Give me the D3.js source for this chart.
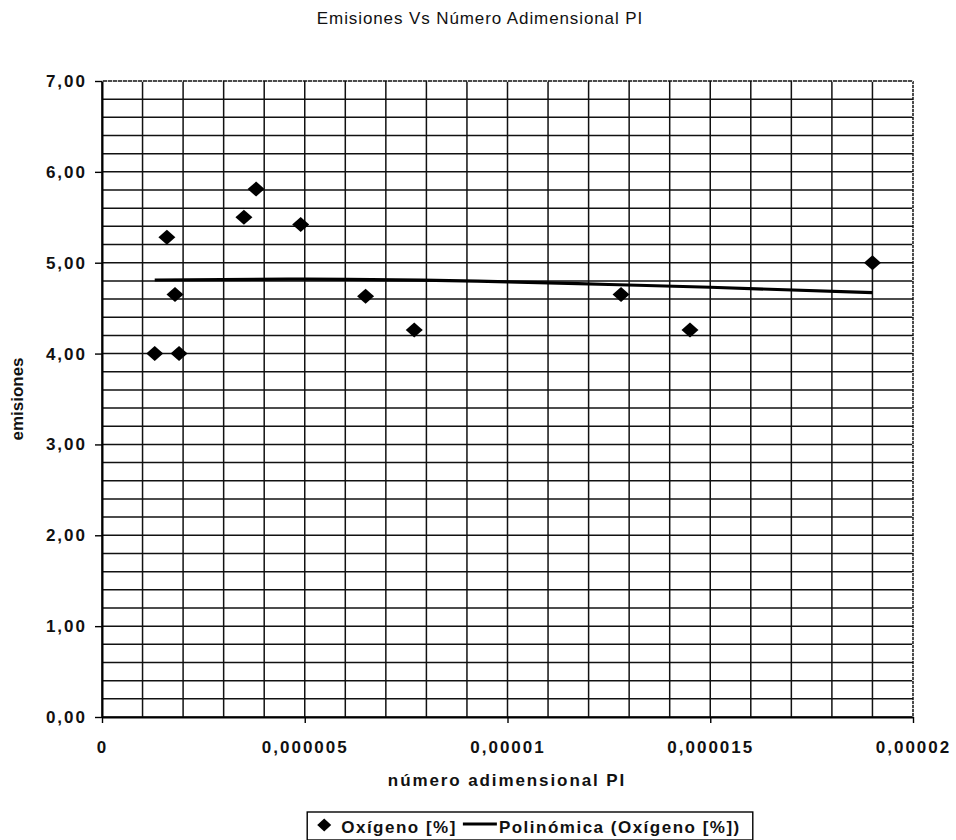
<!DOCTYPE html>
<html>
<head>
<meta charset="utf-8">
<script src="https://cdn.jsdelivr.net/npm/d3@7"></script>
<style>
	body { margin: 0; background: #fff; }
	text { font-family: 'Liberation Sans', Arial, sans-serif; fill: #111; }
</style>
</head>
<body>
<div id="chart"></div>
<script>

// Oxígeno [%] measurements
const pointX = [0.0000013, 0.0000016, 0.0000018, 0.0000019, 0.0000035, 0.0000038, 0.0000049, 0.0000065, 0.0000077, 0.0000128, 0.0000145, 0.0000190];
const pointY = [4.00, 5.28, 4.65, 4.00, 5.50, 5.81, 5.42, 4.63, 4.26, 4.65, 4.26, 5.00];

// Polinómica (Oxígeno [%])
const trendX = [0.0000013, 0.000005, 0.00001, 0.0000125, 0.000015, 0.000019];
const trendY = [4.81, 4.82, 4.79, 4.76, 4.73, 4.67];

const yTickValues = [0, 1, 2, 3, 4, 5, 6, 7];
const yTickLabels = ['0,00', '1,00', '2,00', '3,00', '4,00', '5,00', '6,00', '7,00'];
const xTickValues = [0, 0.000005, 0.00001, 0.000015, 0.00002];
const xTickLabels = ['0', '0,000005', '0,00001', '0,000015', '0,00002'];

const title = 'Emisiones Vs Número Adimensional PI';
const xTitle = 'número adimensional PI';
const yTitle = 'emisiones';
const legendLabels = ['Oxígeno [%]', 'Polinómica (Oxígeno [%])'];


function ScatterChart(element) {
	this.element = element;
	this.width = 956;
	this.height = 840;
	this.draw();
}

ScatterChart.prototype.draw = function() {
	this.createSVG();
	this.createScales();
	this.createGrid();
	this.createAxes();
	this.createTrend();
	this.createPoints();
	this.createLabels();
	this.createLegend();
}

ScatterChart.prototype.createSVG = function() {
	this.svg = d3.select(this.element)
		.append('svg')
			.attr('width', this.width)
			.attr('height', this.height);
}

ScatterChart.prototype.createScales = function() {
	this.xScale = d3.scaleLinear()
		.domain([0, 0.00002])
		.range([102, 913]);

	this.yScale = d3.scaleLinear()
		.domain([0, 7])
		.range([717, 81]);
}

ScatterChart.prototype.createGrid = function() {
	let that = this;
	let grid = this.svg.append('g').attr('class', 'grid');

	grid.selectAll('.h')
		.data(this.yScale.ticks(35))
		.enter().append('line')
			.attr('class', 'h')
			.attr('x1', this.xScale.range()[0])
			.attr('x2', this.xScale.range()[1])
			.attr('y1', function(d) { return that.yScale(d); })
			.attr('y2', function(d) { return that.yScale(d); })
			.attr('stroke', '#111')
			.attr('stroke-width', 1.5);

	grid.selectAll('.v')
		.data(this.xScale.ticks(20))
		.enter().append('line')
			.attr('class', 'v')
			.attr('y1', this.yScale.range()[0])
			.attr('y2', this.yScale.range()[1])
			.attr('x1', function(d) { return that.xScale(d); })
			.attr('x2', function(d) { return that.xScale(d); })
			.attr('stroke', '#111')
			.attr('stroke-width', 1.5);

	// top and right border look dotted in the scan
	grid.append('line')
		.attr('x1', this.xScale(0)).attr('x2', this.xScale(0.00002))
		.attr('y1', this.yScale(7)).attr('y2', this.yScale(7))
		.attr('stroke', '#fff').attr('stroke-width', 1.7)
		.attr('stroke-dasharray', '1,4');
	grid.append('line')
		.attr('x1', this.xScale(0.00002)).attr('x2', this.xScale(0.00002))
		.attr('y1', this.yScale(0)).attr('y2', this.yScale(7))
		.attr('stroke', '#fff').attr('stroke-width', 1.7)
		.attr('stroke-dasharray', '1,3');
}

ScatterChart.prototype.createAxes = function() {
	this.xAxis = d3.axisBottom(this.xScale)
		.tickValues(xTickValues)
		.tickFormat(function(d, i) { return xTickLabels[i]; })
		.tickSizeInner(6)
		.tickSizeOuter(0)
		.tickPadding(18);

	this.yAxis = d3.axisLeft(this.yScale)
		.tickValues(yTickValues)
		.tickFormat(function(d, i) { return yTickLabels[i]; })
		.tickSizeInner(7)
		.tickSizeOuter(0)
		.tickPadding(8);

	let gx = this.svg.append('g')
		.attr('transform', `translate(0, ${this.yScale(0)})`)
		.call(this.xAxis);

	let gy = this.svg.append('g')
		.attr('transform', `translate(${this.xScale(0)}, 0)`)
		.call(this.yAxis);

	[gx, gy].forEach(function(g) {
		g.select('.domain').attr('stroke', '#000').attr('stroke-width', 2);
		g.selectAll('.tick line').attr('stroke', '#000').attr('stroke-width', 1.4);
		g.selectAll('.tick text')
			.attr('fill', '#111')
			.style('font-family', "'Liberation Sans', Arial, sans-serif")
			.style('font-size', '17px')
			.style('font-weight', 'bold')
			.style('letter-spacing', '2px');
	});
}

ScatterChart.prototype.createTrend = function() {
	let that = this;
	let line = d3.line()
		.x(function(d) { return that.xScale(d[0]); })
		.y(function(d) { return that.yScale(d[1]); })
		.curve(d3.curveMonotoneX);

	this.svg.append('path')
		.datum(d3.zip(trendX, trendY))
		.attr('d', line)
		.attr('fill', 'none')
		.attr('stroke', '#000')
		.attr('stroke-width', 3.2);
}

ScatterChart.prototype.diamond = function(w, h) {
	return `M0,${-h / 2}L${w / 2},0L0,${h / 2}L${-w / 2},0Z`;
}

ScatterChart.prototype.createPoints = function() {
	let that = this;
	this.svg.selectAll('.point')
		.data(d3.zip(pointX, pointY))
		.enter().append('path')
			.attr('class', 'point')
			.attr('d', this.diamond(17, 15))
			.attr('transform', function(d) {
				return `translate(${that.xScale(d[0])}, ${that.yScale(d[1])})`;
			})
			.attr('fill', '#000');
}

ScatterChart.prototype.createLabels = function() {
	this.svg.append('text')
		.attr('x', 480)
		.attr('y', 24)
		.attr('text-anchor', 'middle')
		.style('font-size', '17px')
		.style('letter-spacing', '0.9px')
		.text(title);

	this.svg.append('text')
		.attr('x', 507)
		.attr('y', 786)
		.attr('text-anchor', 'middle')
		.style('font-size', '17px')
		.style('font-weight', 'bold')
		.style('letter-spacing', '1.9px')
		.text(xTitle);

	this.svg.append('text')
		.attr('transform', 'translate(23, 399) rotate(-90)')
		.attr('text-anchor', 'middle')
		.style('font-size', '17px')
		.style('font-weight', 'bold')
		.text(yTitle);
}

ScatterChart.prototype.createLegend = function() {
	let legend = this.svg.append('g').attr('class', 'legend');
	let top = 812, h = 28, base = 833;

	let box = legend.append('rect')
		.attr('y', top)
		.attr('height', h)
		.attr('fill', '#fff')
		.attr('stroke', '#000')
		.attr('stroke-width', 1.4);

	let marker = legend.append('path')
		.attr('d', this.diamond(14, 13))
		.attr('fill', '#000');

	let t1 = legend.append('text')
		.attr('y', base)
		.style('font-size', '17px')
		.style('font-weight', 'bold')
		.style('letter-spacing', '1.5px')
		.text(legendLabels[0]);

	let sample = legend.append('line')
		.attr('y1', top + h / 2 - 2)
		.attr('y2', top + h / 2 - 2)
		.attr('stroke', '#000')
		.attr('stroke-width', 3.2);

	let t2 = legend.append('text')
		.attr('y', base)
		.style('font-size', '17px')
		.style('font-weight', 'bold')
		.style('letter-spacing', '1.5px')
		.text(legendLabels[1]);

	let w1 = t1.node().getComputedTextLength();
	let w2 = t2.node().getComputedTextLength();
	let total = 17 + 17 + w1 + 8 + 34 + 2 + w2 + 10;
	let left = 530 - total / 2;

	box.attr('x', left).attr('width', total);
	marker.attr('transform', `translate(${left + 17}, ${top + h / 2 - 1})`);
	t1.attr('x', left + 34);
	sample.attr('x1', left + 34 + w1 + 6).attr('x2', left + 34 + w1 + 6 + 34);
	t2.attr('x', left + 34 + w1 + 8 + 34);
}

new ScatterChart('#chart');

</script>
</body>
</html>
